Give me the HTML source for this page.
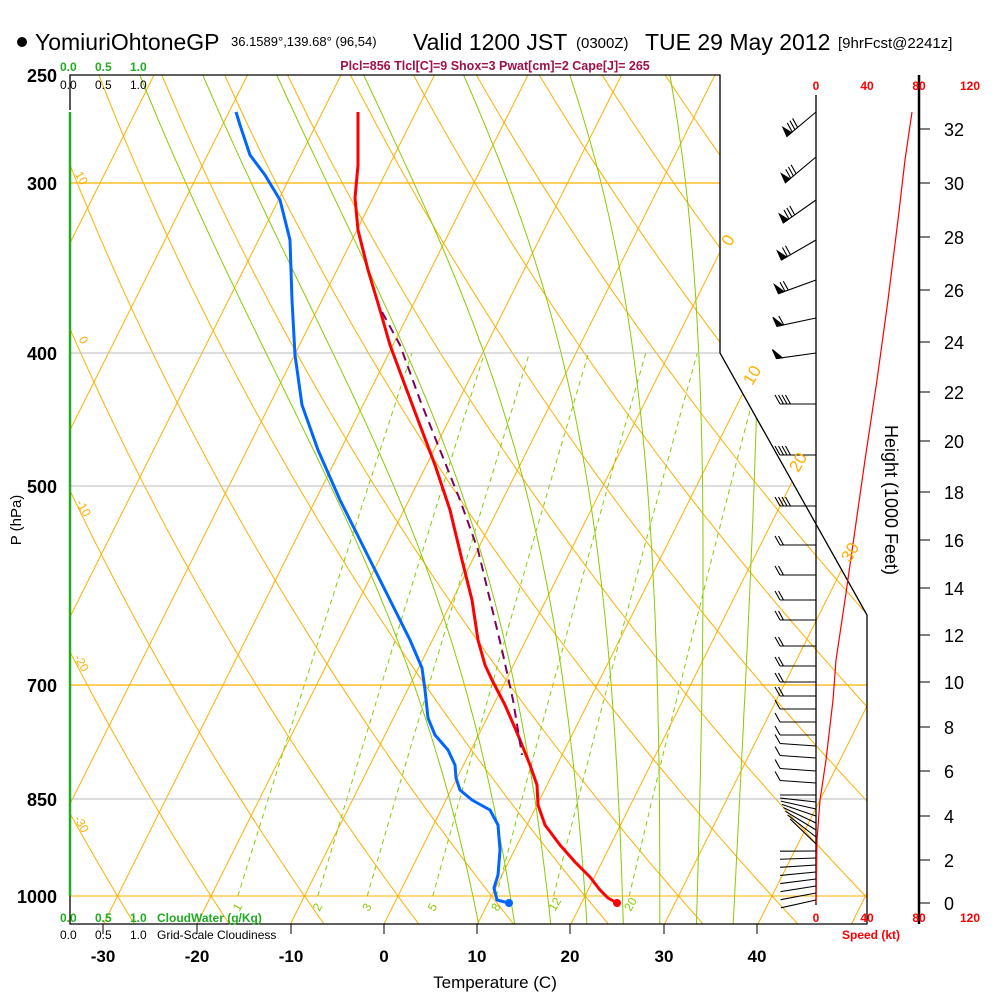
<!DOCTYPE html>
<html><head><meta charset="utf-8">
<style>
html,body{margin:0;padding:0;background:#fff;}
svg{display:block;font-family:"Liberation Sans",sans-serif;}
</style></head>
<body>
<svg id="s" width="1000" height="1000" viewBox="0 0 1000 1000" xmlns="http://www.w3.org/2000/svg">
<defs><clipPath id="c"><polygon points="70,75 720,75 720,353 867,615 867,924 70,924"/></clipPath>
<clipPath id="c2"><polygon points="70,353 720,353 867,615 867,896 70,896"/></clipPath></defs>
<g id="grid" clip-path="url(#c)" fill="none"></g>
<g id="mix" clip-path="url(#c2)" fill="none"></g>
<line x1="70" y1="183" x2="720" y2="183" stroke="#ffb000" stroke-width="1.2"/>
<line x1="70" y1="353" x2="720" y2="353" stroke="#bbb" stroke-width="1"/>
<line x1="70" y1="486" x2="795" y2="486" stroke="#bbb" stroke-width="1"/>
<line x1="70" y1="685" x2="867" y2="685" stroke="#ffb000" stroke-width="1.2"/>
<line x1="70" y1="799" x2="867" y2="799" stroke="#bbb" stroke-width="1"/>
<line x1="70" y1="896" x2="867" y2="896" stroke="#ffb000" stroke-width="1"/>
<polyline points="70,110 70,75 720,75 720,353 867,615 867,924 70,924 70,896" fill="none" stroke="#000" stroke-width="1.3"/>
<line x1="70" y1="112" x2="70" y2="896" stroke="#22aa22" stroke-width="2.5"/>
<line x1="816" y1="95" x2="816" y2="905" stroke="#000" stroke-width="1.3"/>
<line x1="919" y1="75" x2="919" y2="924" stroke="#000" stroke-width="2.5"/>
<g id="ticks" stroke="#000" stroke-width="1"></g>
<g id="data" fill="none"></g>
<g id="barbs" stroke="#000" stroke-width="1.1" fill="#000"></g>
<g id="txt"></g>
<circle cx="22" cy="42" r="5" fill="#000"/>
<text x="35" y="50" font-size="23">YomiuriOhtoneGP</text>
<text x="231" y="46" font-size="13">36.1589°,139.68° (96,54)</text>
<text x="413" y="50" font-size="23">Valid 1200 JST</text>
<text x="576" y="48" font-size="15">(0300Z)</text>
<text x="645" y="50" font-size="23">TUE 29 May 2012</text>
<text x="838" y="48" font-size="15">[9hrFcst@2241z]</text>
<text x="495" y="70" font-size="12.5" font-weight="bold" fill="#a0104a" text-anchor="middle">Plcl=856 Tlcl[C]=9 Shox=3 Pwat[cm]=2 Cape[J]= 265</text>
<g font-size="12" font-weight="bold" fill="#22aa22"><text x="60" y="71">0.0</text><text x="95" y="71">0.5</text><text x="130" y="71">1.0</text></g>
<g font-size="12" fill="#000"><text x="60" y="89">0.0</text><text x="95" y="89">0.5</text><text x="130" y="89">1.0</text></g>
<g font-size="12" font-weight="bold" fill="#22aa22"><text x="60" y="922">0.0</text><text x="95" y="922">0.5</text><text x="130" y="922">1.0</text><text x="157" y="922">CloudWater (g/Kg)</text></g>
<g font-size="12" fill="#000"><text x="60" y="939">0.0</text><text x="95" y="939">0.5</text><text x="130" y="939">1.0</text><text x="157" y="939">Grid-Scale Cloudiness</text></g>
<g font-size="18" font-weight="bold" text-anchor="end"><text x="57" y="82">250</text><text x="57" y="190">300</text><text x="57" y="360">400</text><text x="57" y="493">500</text><text x="57" y="692">700</text><text x="57" y="806">850</text><text x="57" y="903">1000</text></g>
<text transform="translate(21,520) rotate(-90)" font-size="15" text-anchor="middle">P (hPa)</text>
<g font-size="17" font-weight="bold" text-anchor="middle"><text x="103" y="962">-30</text><text x="197" y="962">-20</text><text x="291" y="962">-10</text><text x="384" y="962">0</text><text x="477" y="962">10</text><text x="570" y="962">20</text><text x="664" y="962">30</text><text x="757" y="962">40</text></g>
<text x="495" y="988" font-size="17" text-anchor="middle">Temperature (C)</text>
<text transform="translate(885,500) rotate(90)" font-size="18" text-anchor="middle">Height (1000 Feet)</text>
<g font-size="12" font-weight="bold" fill="#ff0000" text-anchor="middle"><text x="816" y="90">0</text><text x="867" y="90">40</text><text x="919" y="90">80</text><text x="970" y="90">120</text>
<text x="816" y="922">0</text><text x="867" y="922">40</text><text x="919" y="922">80</text><text x="970" y="922">120</text><text x="871" y="939">Speed (kt)</text></g>
</svg>
<script>
var NS="http://www.w3.org/2000/svg";
function el(p,t,a,txt){var e=document.createElementNS(NS,t);for(var k in a)e.setAttribute(k,a[k]);if(txt!==undefined)e.textContent=txt;document.getElementById(p).appendChild(e);return e;}
function Y(p){return 896+592*Math.log(p/1000);}
function X(T,y){return 384+9.35*T+0.5*(924-y);}
for(var T=-90;T<=60;T+=10){el("grid","line",{x1:X(T,930),y1:930,x2:X(T,70),y2:70,stroke:"#ffb000","stroke-width":1});}
for(var th=-40;th<=250;th+=10){var pts=[];for(var p=1060;p>=240;p-=10){var Tk=(th+273.15)*Math.pow(p/1000,0.2857)-273.15;var y=Y(p);pts.push(X(Tk,y).toFixed(1)+","+y.toFixed(1));}
el("grid","polyline",{points:pts.join(" "),stroke:"#ffb000","stroke-width":1});}
function es(t){return 6.112*Math.exp(17.67*t/(t+243.5));}
function dTdp(T,p){var Tk=T+273.15;var e=es(T);var rs=0.622*e/(p-e);return (287*Tk+2.5e6*rs)/(1005+2.5e6*2.5e6*rs*0.622/(287*Tk*Tk))/p;}
for(var T0=8;T0<=36;T0+=4){var pts=[];var T=T0,p=1000;while(p<1060){T+=dTdp(T,p)*2;p+=2;}
for(;p>=240;p-=2){var y=Y(p);if(Math.round(p)%10==0)pts.push(X(T,y).toFixed(1)+","+y.toFixed(1));T-=dTdp(T,p)*2;}
el("grid","polyline",{points:pts.join(" "),stroke:"#88cc00","stroke-width":1});}
var ws=[1,2,3,5,8,12,20];
ws.forEach(function(w){var pts=[];for(var p=1000;p>=400;p-=20){var e=w*p/(622+w);var l=Math.log(e/6.112);var td=243.5*l/(17.67-l);var y=Y(p);pts.push(X(td,y).toFixed(1)+","+y.toFixed(1));}
el("mix","polyline",{points:pts.join(" "),stroke:"#88cc00","stroke-width":1,"stroke-dasharray":"5,4"});
var e=w*1000/(622+w),l=Math.log(e/6.112),td=243.5*l/(17.67-l);
el("txt","text",{x:X(td,896)-2,y:914,"font-size":12,fill:"#88cc00",transform:"rotate(-60 "+(X(td,896)-2)+" 910)"},String(w));});
[[0,733,243],[10,757,378],[20,803,465],[30,855,555]].forEach(function(a){el("txt","text",{x:a[1],y:a[2],"font-size":17,fill:"#ffb000","text-anchor":"middle",transform:"rotate(-60 "+a[1]+" "+a[2]+")"},String(a[0]));});
[["10",78,180],["0",80,342],["-10",80,510],["-20",78,665],["-30",78,826]].forEach(function(a){el("txt","text",{x:a[1],y:a[2],"font-size":12,fill:"#ffb000","text-anchor":"middle",transform:"rotate(60 "+a[1]+" "+a[2]+")"},a[0]);});
[103,197,291,384,477,570,664,757].forEach(function(x){el("ticks","line",{x1:x,y1:924,x2:x,y2:934});});
[[0,903],[2,860],[4,816],[6,771],[8,727],[10,682],[12,635],[14,588],[16,540],[18,492],[20,441],[22,392],[24,342],[26,290],[28,237],[30,183],[32,129]].forEach(function(a){el("ticks","line",{x1:919,y1:a[1],x2:930,y2:a[1]});el("txt","text",{x:944,y:a[1]+7,"font-size":18},String(a[0]));});
function pl(pts,c,w,d){var a={points:pts.map(function(p){return p.join(",")}).join(" "),stroke:c,"stroke-width":w,"stroke-linejoin":"round"};if(d)a["stroke-dasharray"]=d;el("data","polyline",a);}
pl([[358,112],[358,165],[355,198],[358,230],[368,270],[380,310],[390,345],[403,380],[418,420],[435,465],[450,510],[462,560],[472,600],[478,640],[485,665],[492,680],[505,705],[518,735],[530,765],[537,785],[538,805],[545,825],[560,845],[575,862],[590,877],[600,890],[608,898],[617,903]],"#ff0000",3);
pl([[236,112],[240,125],[250,155],[265,175],[280,200],[290,240],[292,300],[295,355],[302,405],[318,450],[340,500],[365,550],[390,600],[410,640],[422,668],[425,690],[428,718],[435,735],[448,750],[455,765],[456,778],[460,790],[472,800],[490,810],[498,825],[500,850],[498,875],[494,888],[497,900],[509,903]],"#0066ff",3);
pl([[382,312],[400,345],[420,400],[440,450],[460,500],[478,550],[490,600],[502,650],[513,700],[522,755]],"#800060",2,"9,6");
el("data","circle",{cx:617,cy:903,r:4,fill:"#ff0000"});
el("data","circle",{cx:509,cy:903,r:4,fill:"#0066ff"});
pl([[816,903],[817,840],[820,800],[826,760],[833,700],[836,660],[845,600],[855,530],[865,460],[877,380],[888,300],[898,220],[905,160],[912,112]],"#ff0000",1.2);
function barb(y,ang,len,flag,nb){var r=ang*Math.PI/180;var ex=816-len*Math.cos(r),ey=y+len*Math.sin(r);
el("barbs","line",{x1:816,y1:y,x2:ex,y2:ey});
var ux=Math.cos(r),uy=-Math.sin(r);var s=0;
if(flag){el("barbs","polygon",{points:ex+","+ey+" "+(ex-4)+","+(ey-9)+" "+(ex+6*ux)+","+(ey+6*uy)});s=7;}
for(var i=0;i<nb;i++){var bx=ex+(s+i*3.5)*ux,by=ey+(s+i*3.5)*uy;el("barbs","line",{x1:bx,y1:by,x2:bx-5,y2:by-9});}}
[[112,40,38,1,3],[157,40,40,1,3],[200,35,40,1,3],[240,30,40,1,2],[280,20,40,1,2],[318,12,40,1,1],[353,8,40,1,0],[404,0,36,0,4],[455,0,36,0,4],[506,0,36,0,4]].forEach(function(b){barb(b[0],b[1],b[2],b[3],b[4]);});
[545,575,600,620,646,666,682,696,709,722,735,746,758,771,783].forEach(function(y,i){barb(y,(i>10?-4:0),36,0,i<8?2:1);});
for(var y=795;y<=903;y+=7){barb(y,(y<850?-(y-795)*0.9:(y-850)*0.25),36,0,0);}
</script>
</body></html>
